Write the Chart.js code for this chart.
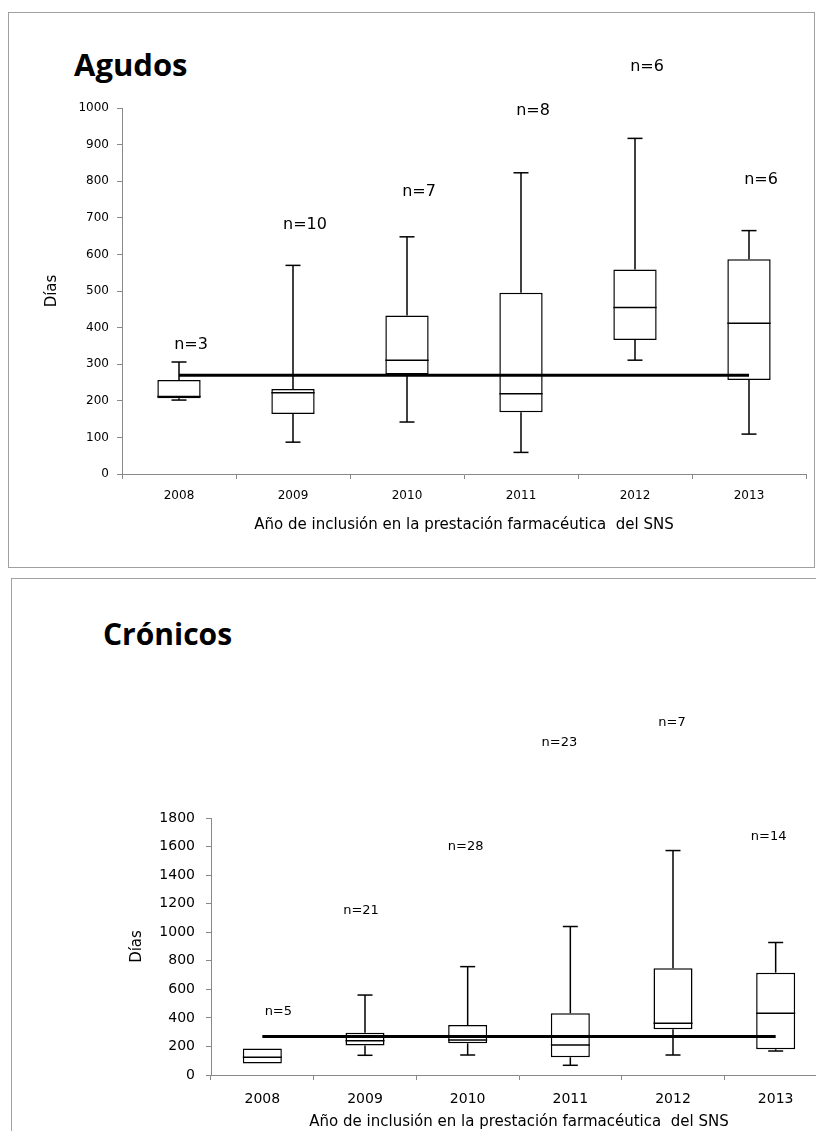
<!DOCTYPE html>
<html>
<head>
<meta charset="utf-8">
<script src="https://cdn.jsdelivr.net/npm/chart.js@4/dist/chart.umd.min.js"></script>
<style>
  body { margin: 0; background: #fff; overflow: hidden; width: 816px; height: 1131px; position: relative; }
  .panel { position: absolute; border: 1.5px solid #a0a0a0; box-sizing: border-box; }
  .ttl { position: absolute; font-family: "Open Sans", sans-serif; font-weight: bold; color: #000; line-height: 34px; }
  canvas { position: absolute; left: 0; }
</style>
</head>
<body>
<div class="panel" style="left:8px; top:12px; width:807px; height:556px;"></div>
<div class="panel" style="left:11px; top:578px; width:900px; height:700px;"></div>
<div class="ttl" style="left:74px; top:47px; font-size:31px;">Agudos</div>
<div class="ttl" style="left:103px; top:617px; font-size:30px;">Crónicos</div>
<canvas id="chartAgudos" width="816" height="570" style="top:0;"></canvas>
<canvas id="chartCronicos" width="880" height="561" style="top:570px;"></canvas>
<script>
// years shared by both charts
const years = ['2008', '2009', '2010', '2011', '2012', '2013'];
const refLine = 270;
const xTitle = 'Año de inclusión en la prestación farmacéutica  del SNS';

// Agudos: min, q1, median, q3, max (days)
const agMin = [202, 87, 142, 59, 311, 109];
const agQ1 = [207, 164, 272, 169, 366, 257];
const agMed = [212, 222, 311, 219, 455, 412];
const agQ3 = [257, 232, 433, 495, 559, 587];
const agMax = [306, 570, 648, 823, 917, 665];
const agN = ['n=3', 'n=10', 'n=7', 'n=8', 'n=6', 'n=6'];
const agNy = [353, 680, 772, 992, 1112, 804];

// Crónicos
const crMin = [80, 138, 140, 68, 140, 168];
const crQ1 = [80, 207, 222, 124, 320, 180];
const crMed = [125, 240, 245, 210, 362, 432];
const crQ3 = [185, 296, 350, 432, 748, 717];
const crMax = [185, 560, 759, 1040, 1572, 928];
const crN = ['n=5', 'n=21', 'n=28', 'n=23', 'n=7', 'n=14'];
const crNy = [447, 1150, 1597, 2330, 2467, 1672];

const FONT = '"DejaVu Sans", sans-serif';

// whiskers + medians go right after the boxes, so the 270 line stays on top
const boxPlugin = {
  id: 'boxParts',
  afterDatasetDraw(chart, args) {
    if (chart.data.datasets[args.index].type === 'line') return;
    const o = chart.options.plugins.boxParts;
    const x = chart.scales.x, y = chart.scales.y;
    const ctx = chart.ctx;
    const meta = chart.getDatasetMeta(args.index);
    const seg = (a, b, c, d) => { ctx.beginPath(); ctx.moveTo(a, b); ctx.lineTo(c, d); ctx.stroke(); };
    ctx.save();
    ctx.strokeStyle = '#000';
    ctx.lineWidth = 1.5;
    for (let i = 0; i < years.length; i++) {
      const cx = x.getPixelForValue(i);
      const half = meta.data[i].width / 2;
      if (o.max[i] > o.q3[i]) {
        seg(cx, y.getPixelForValue(o.q3[i]), cx, y.getPixelForValue(o.max[i]));
        seg(cx - o.cap, y.getPixelForValue(o.max[i]), cx + o.cap, y.getPixelForValue(o.max[i]));
      }
      if (o.min[i] < o.q1[i]) {
        seg(cx, y.getPixelForValue(o.q1[i]), cx, y.getPixelForValue(o.min[i]));
        seg(cx - o.cap, y.getPixelForValue(o.min[i]), cx + o.cap, y.getPixelForValue(o.min[i]));
      }
      seg(cx - half, y.getPixelForValue(o.med[i]), cx + half, y.getPixelForValue(o.med[i]));
    }
    ctx.restore();
  },
  afterDraw(chart) {
    // n= labels, placed in data units above each box
    const o = chart.options.plugins.boxParts;
    const x = chart.scales.x, y = chart.scales.y;
    const ctx = chart.ctx;
    ctx.save();
    ctx.fillStyle = '#000';
    ctx.font = o.nFont + 'px ' + FONT;
    ctx.textAlign = 'center';
    ctx.textBaseline = 'middle';
    o.labels.forEach((t, i) => {
      ctx.fillText(t, x.getPixelForValue(i) + o.nShift[i], y.getPixelForValue(o.ny[i]));
    });
    ctx.restore();
  }
};

function makeChart(id, d) {
  new Chart(document.getElementById(id), {
    type: 'bar',
    data: {
      labels: years,
      datasets: [{
        type: 'line',
        data: years.map(() => refLine),
        borderColor: '#000',
        borderWidth: 3,
        pointRadius: 0,
        order: 0
      }, {
        data: d.q1.map((v, i) => [v, d.q3[i]]),
        backgroundColor: '#fff',
        borderColor: '#000',
        borderWidth: 1.5,
        borderSkipped: false,
        barPercentage: 0.38,
        categoryPercentage: 1,
        order: 1
      }]
    },
    options: {
      responsive: false,
      animation: false,
      layout: { padding: d.pad },
      plugins: {
        legend: { display: false },
        tooltip: { enabled: false },
        boxParts: {
          min: d.min, q1: d.q1, med: d.med, q3: d.q3, max: d.max,
          labels: d.n, ny: d.ny, nShift: d.nShift, nFont: d.nFont, cap: 7.5
        }
      },
      scales: {
        x: {
          offset: true,
          grid: { display: true, offset: true, drawOnChartArea: false, tickLength: 5, color: '#888' },
          border: { color: '#888', width: 1 },
          ticks: { color: '#000', padding: d.xTickPad, font: { family: FONT, size: d.tickFont } },
          title: { display: true, text: xTitle, color: '#000', font: { family: FONT, size: 15 }, padding: { top: 0, bottom: d.xTitlePad } },
          afterFit: s => { s.height = d.xH; }
        },
        y: {
          min: 0,
          max: d.yMax,
          grid: { drawOnChartArea: false, tickLength: 5, color: '#888' },
          border: { color: '#888', width: 1 },
          ticks: { stepSize: d.step, color: '#000', padding: d.yTickPad, font: { family: FONT, size: d.tickFont }, callback: v => String(v) },
          title: { display: true, text: 'Días', color: '#000', font: { family: FONT, size: 15 }, padding: { top: d.yTitlePad, bottom: 0 } },
          afterFit: s => { s.width = d.yW; }
        }
      }
    },
    plugins: [boxPlugin]
  });
}

makeChart('chartAgudos', {
  min: agMin, q1: agQ1, med: agMed, q3: agQ3, max: agMax,
  n: agN, ny: agNy, nShift: [12, 12, 12, 12, 12, 12], nFont: 16,
  yMax: 1000, step: 100, tickFont: 12,
  pad: { left: 0, right: 10, top: 108, bottom: 30 },
  xH: 66, xTickPad: 10, xTitlePad: 6, yW: 122, yTickPad: 8, yTitlePad: 43
});

makeChart('chartCronicos', {
  min: crMin, q1: crQ1, med: crMed, q3: crQ3, max: crMax,
  n: crN, ny: crNy, nShift: [16, -4, -2, -11, -1, -7], nFont: 13,
  yMax: 1800, step: 200, tickFont: 14,
  pad: { left: 0, right: 53, top: 248, bottom: 0 },
  xH: 56, xTickPad: 11, xTitlePad: 0, yW: 211, yTickPad: 11, yTitlePad: 128
});
</script>
</body>
</html>
